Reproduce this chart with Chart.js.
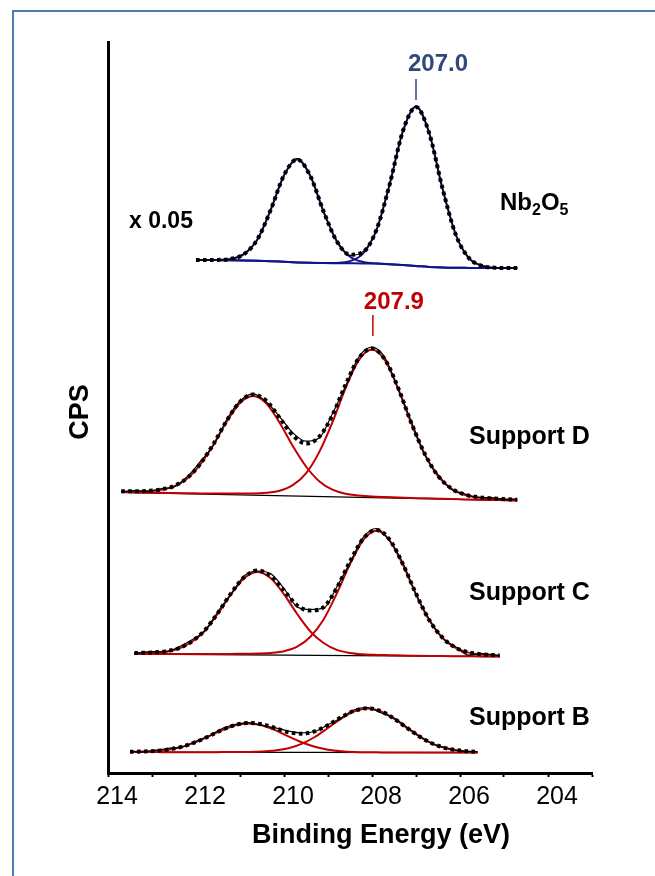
<!DOCTYPE html>
<html>
<head>
<meta charset="utf-8">
<script src="https://cdn.jsdelivr.net/npm/chart.js@4.4.1/dist/chart.umd.min.js"></script>
<style>
html,body{margin:0;padding:0;background:#fff;}
#wrap{position:relative;width:655px;height:876px;overflow:hidden;background:#fff;}
#frame{position:absolute;left:12px;top:10px;width:700px;height:900px;border-left:2px solid #4f7db3;border-top:2px solid #4f7db3;}
canvas{position:absolute;left:0;top:0;}
</style>
</head>
<body>
<div id="wrap"><div id="frame"></div><canvas id="c" width="655" height="876"></canvas></div>
<script>
// ---- x axis ticks ----
const tickValues = [214, 213, 212, 211, 210, 209, 208, 207, 206, 205, 204, 203];
const tickLabels = ['214', '', '212', '', '210', '', '208', '', '206', '', '204', ''];

// ---- Nb2O5 (x 0.05) ----
const nbE     = [212.0, 211.8, 211.5, 211.2, 210.9, 210.6, 210.3, 210.0, 209.7, 209.4, 209.1, 208.8, 208.5, 208.2, 207.9, 207.6, 207.3, 207.0, 206.7, 206.4, 206.1, 205.8, 205.5, 205.2, 204.9, 204.7];
const nbBg    = [513.0, 513.0, 512.9, 512.8, 512.6, 512.3, 511.8, 511.2, 510.6, 510.2, 509.9, 509.8, 509.7, 509.6, 509.4, 508.8, 507.9, 507.0, 506.1, 505.5, 505.2, 505.1, 505.0, 505.0, 505.0, 505.0];
const nbComp1 = [513.0, 513.0, 512.9, 512.8, 512.6, 512.3, 511.8, 511.2, 510.6, 510.2, 509.9, 510.1, 511.8, 519.6, 542.9, 588.3, 641.6, 666.0, 639.8, 585.0, 538.7, 515.1, 507.1, 505.3, 505.0, 505.0];
const nbComp2 = [513.0, 513.0, 513.1, 514.2, 519.1, 534.0, 563.3, 597.8, 613.6, 596.8, 561.4, 531.5, 516.2, 511.0, 509.6, 508.8, 507.9, 507.0, 506.1, 505.5, 505.2, 505.1, 505.0, 505.0, 505.0, 505.0];
const nbFit   = [513.0, 513.0, 513.1, 514.2, 519.1, 534.0, 563.3, 597.8, 613.6, 596.8, 561.4, 531.8, 518.3, 521.0, 543.1, 588.3, 641.6, 666.0, 639.8, 585.0, 538.7, 515.1, 507.1, 505.3, 505.0, 505.0];
const nbRaw   = [513.5, 512.6, 513.4, 514.0, 519.8, 533.2, 564.0, 597.0, 614.5, 597.5, 560.8, 532.5, 517.6, 521.6, 542.4, 589.0, 641.0, 667.0, 640.5, 584.3, 539.4, 514.6, 507.6, 504.8, 505.4, 504.9];

// ---- Support D ----
const dE     = [213.7, 213.4, 213.1, 212.8, 212.5, 212.2, 211.9, 211.6, 211.3, 211.0, 210.7, 210.4, 210.1, 209.8, 209.5, 209.2, 208.9, 208.6, 208.3, 208.0, 207.7, 207.4, 207.1, 206.8, 206.5, 206.2, 205.9, 205.6, 205.3, 205.0, 204.7];
const dComp1 = [280.9, 280.6, 280.3, 280.2, 279.9, 279.7, 279.6, 279.4, 279.4, 279.4, 279.5, 280.3, 282.2, 287.8, 299.7, 320.9, 350.6, 385.0, 412.9, 423.4, 412.3, 383.9, 348.9, 318.7, 296.9, 284.4, 278.3, 275.8, 274.5, 273.8, 273.2];
const dComp2 = [281.5, 281.5, 281.9, 283.2, 286.7, 294.6, 308.7, 328.5, 351.5, 370.0, 376.9, 369.4, 350.3, 326.9, 306.5, 291.8, 283.3, 279.2, 277.5, 276.5, 275.9, 275.4, 275.0, 274.7, 274.3, 273.9, 273.6, 273.3, 273.1, 272.7, 272.4];
const dFit   = [281.7, 281.7, 282.1, 283.5, 287.0, 295.0, 309.3, 329.2, 352.4, 371.2, 378.5, 372.1, 355.2, 337.6, 329.4, 336.2, 357.7, 388.3, 414.7, 424.5, 413.1, 384.5, 349.4, 319.1, 297.2, 284.6, 278.5, 276.0, 274.7, 273.9, 273.3];
const dRaw   = [281.0, 282.3, 281.4, 284.2, 286.1, 296.2, 311.5, 328.0, 353.5, 372.0, 379.2, 371.0, 356.4, 340.2, 331.8, 335.0, 359.2, 387.0, 416.0, 425.8, 414.8, 383.2, 350.8, 318.0, 298.4, 283.8, 279.2, 275.4, 275.3, 273.4, 273.8];
const dBgE   = [213.7, 204.7];
const dBg    = [280.7, 272.3];

// ---- Support C ----
const cE     = [213.4, 213.0, 212.7, 212.4, 212.1, 211.8, 211.5, 211.2, 210.9, 210.6, 210.3, 210.0, 209.7, 209.4, 209.1, 208.8, 208.5, 208.2, 207.9, 207.6, 207.3, 207.0, 206.7, 206.4, 206.1, 205.8, 205.5, 205.1];
const cComp1 = [119.2, 119.1, 119.0, 119.0, 119.0, 119.0, 119.0, 119.1, 119.2, 119.5, 120.1, 121.8, 126.3, 136.3, 153.5, 179.5, 208.9, 232.9, 242.2, 232.7, 208.5, 178.9, 152.7, 135.3, 125.1, 120.4, 118.5, 117.5];
const cComp2 = [119.8, 120.3, 121.4, 124.3, 131.0, 142.3, 159.6, 179.1, 195.0, 201.1, 194.8, 178.7, 159.0, 141.5, 130.0, 123.1, 120.0, 118.7, 118.1, 117.8, 117.5, 117.3, 117.1, 116.9, 116.8, 116.7, 116.6, 116.4];
const cFit   = [120.0, 120.5, 121.6, 124.6, 131.4, 142.8, 160.2, 179.9, 196.0, 202.5, 196.9, 182.6, 167.5, 162.5, 165.9, 185.1, 211.5, 234.3, 243.1, 233.4, 209.0, 179.3, 153.0, 135.5, 125.3, 120.6, 118.7, 117.6];
const cRaw   = [119.6, 121.4, 121.0, 125.8, 133.0, 142.0, 161.4, 179.0, 197.3, 202.0, 199.2, 184.5, 166.0, 163.5, 164.8, 186.0, 210.4, 235.6, 244.5, 232.0, 210.2, 178.5, 154.0, 134.8, 126.2, 117.8, 119.4, 117.2];
const cBgE   = [213.4, 205.1];
const cBg    = [119.0, 116.3];

// ---- Support B ----
const bE     = [213.5, 213.2, 212.9, 212.6, 212.3, 212.0, 211.7, 211.4, 211.1, 210.8, 210.5, 210.2, 209.9, 209.6, 209.3, 209.0, 208.7, 208.4, 208.1, 207.8, 207.5, 207.2, 206.9, 206.6, 206.3, 206.0, 205.6];
const bComp1 = [20.9, 20.9, 20.9, 20.8, 20.8, 20.8, 20.8, 20.9, 20.9, 21.0, 21.5, 22.6, 24.7, 29.1, 36.0, 45.0, 54.4, 61.6, 64.4, 61.6, 54.3, 44.9, 35.9, 28.9, 24.5, 22.3, 21.0];
const bComp2 = [21.1, 21.4, 22.1, 23.5, 26.4, 30.9, 36.8, 43.0, 47.8, 49.6, 47.8, 42.9, 36.6, 30.7, 26.2, 23.3, 21.8, 21.0, 20.7, 20.6, 20.5, 20.5, 20.5, 20.4, 20.4, 20.4, 20.4];
const bFit   = [21.2, 21.5, 22.2, 23.6, 26.5, 31.0, 36.9, 43.2, 48.1, 50.0, 48.7, 44.9, 40.8, 39.3, 41.7, 47.8, 55.7, 62.2, 64.7, 61.8, 54.4, 45.0, 36.0, 29.0, 24.6, 22.4, 21.1];
const bRaw   = [21.5, 21.2, 22.8, 24.8, 26.2, 32.0, 37.2, 44.5, 48.6, 50.4, 47.5, 45.2, 42.0, 40.2, 41.5, 48.4, 55.2, 63.3, 65.5, 60.2, 54.9, 45.6, 36.4, 28.6, 25.0, 22.1, 21.2];
const bBgE   = [213.5, 205.6];
const bBg    = [20.8, 20.3];

// ---- peak position labels ----
const peakMarks = [207.0, 207.98];
const peakTexts = ['207.0', '207.9'];

// ================= build =================
const FONT = '"Liberation Sans", Arial, sans-serif';
const RED = '#c00000';
const NAVY = '#14148a';
const toXY = (xs, ys) => xs.map((x, i) => ({x: x, y: ys[i]}));

const spectra = [
  {E: nbE, bgE: nbE, bg: nbBg, c1: nbComp1, c2: nbComp2, fit: nbFit, raw: nbRaw, comp: NAVY, bgCol: NAVY, bgW: 2},
  {E: dE, bgE: dBgE, bg: dBg, c1: dComp1, c2: dComp2, fit: dFit, raw: dRaw, comp: RED, bgCol: '#000', bgW: 1.3},
  {E: cE, bgE: cBgE, bg: cBg, c1: cComp1, c2: cComp2, fit: cFit, raw: cRaw, comp: RED, bgCol: '#000', bgW: 1.3},
  {E: bE, bgE: bBgE, bg: bBg, c1: bComp1, c2: bComp2, fit: bFit, raw: bRaw, comp: RED, bgCol: '#000', bgW: 1.3}
];

const datasets = [];
spectra.forEach(s => {
  datasets.push({data: toXY(s.bgE, s.bg), borderColor: s.bgCol, borderWidth: s.bgW, order: 4, cubicInterpolationMode: 'monotone'});
  datasets.push({data: toXY(s.E, s.c1), borderColor: s.comp, borderWidth: 2, order: 3, cubicInterpolationMode: 'monotone'});
  datasets.push({data: toXY(s.E, s.c2), borderColor: s.comp, borderWidth: 2, order: 3, cubicInterpolationMode: 'monotone'});
  datasets.push({data: toXY(s.E, s.raw), borderColor: '#000', borderWidth: 1.2, order: 2, cubicInterpolationMode: 'monotone'});
  datasets.push({data: toXY(s.E, s.fit), borderColor: '#000', borderWidth: 4, borderDash: [3.6, 3.4], borderCapStyle: 'butt', order: 1, cubicInterpolationMode: 'monotone'});
});

const textPlugin = {
  id: 'texts',
  afterDraw(chart) {
    const ctx = chart.ctx;
    const xs = chart.scales.x;
    ctx.save();
    // peak markers
    const markCols = ['#2f4a7a', RED];
    const lineY = [[79, 100], [315, 336]];
    const textY = [64.5, 302];
    const dx = [22, 21];
    peakMarks.forEach((e, i) => {
      const px = xs.getPixelForValue(e);
      ctx.strokeStyle = markCols[i];
      ctx.lineWidth = 1.5;
      ctx.beginPath();
      ctx.moveTo(px, lineY[i][0]);
      ctx.lineTo(px, lineY[i][1]);
      ctx.stroke();
      ctx.fillStyle = markCols[i];
      ctx.font = 'bold 24px ' + FONT;
      ctx.textAlign = 'center';
      ctx.textBaseline = 'middle';
      ctx.fillText(peakTexts[i], px + dx[i], textY[i]);
    });
    ctx.fillStyle = '#000';
    ctx.textAlign = 'left';
    ctx.textBaseline = 'alphabetic';
    // x 0.05
    ctx.font = 'bold 23px ' + FONT;
    ctx.fillText('x 0.05', 129, 227.5);
    // Nb2O5 with subscripts
    let x = 500;
    const base = 209.5;
    const parts = [['Nb', false], ['2', true], ['O', false], ['5', true]];
    parts.forEach(p => {
      ctx.font = p[1] ? 'bold 16px ' + FONT : 'bold 24px ' + FONT;
      ctx.fillText(p[0], x, p[1] ? base + 5 : base);
      x += ctx.measureText(p[0]).width;
    });
    // supports
    ctx.font = 'bold 25px ' + FONT;
    ctx.fillText('Support D', 469, 443.5);
    ctx.fillText('Support C', 469, 599.5);
    ctx.fillText('Support B', 469, 725);
    // axis titles
    ctx.font = 'bold 27px ' + FONT;
    ctx.textAlign = 'center';
    ctx.fillText('Binding Energy (eV)', 381, 842.5);
    ctx.save();
    ctx.translate(88, 412);
    ctx.rotate(-Math.PI / 2);
    ctx.textBaseline = 'alphabetic';
    ctx.fillText('CPS', 0, 0);
    ctx.restore();
    ctx.restore();
  }
};

new Chart(document.getElementById('c'), {
  type: 'line',
  data: {datasets: datasets},
  plugins: [textPlugin],
  options: {
    responsive: false,
    animation: false,
    devicePixelRatio: 1,
    layout: {padding: {left: 0, right: 63, top: 42, bottom: 0}},
    plugins: {legend: {display: false}, tooltip: {enabled: false}},
    elements: {point: {radius: 0}, line: {fill: false}},
    scales: {
      x: {
        type: 'linear', reverse: true, min: 203, max: 214,
        afterFit(s) { s.height = 103; },
        afterBuildTicks(s) { s.ticks = tickValues.map(v => ({value: v})); },
        ticks: {
          autoSkip: false, maxRotation: 0, color: '#000', padding: 5, labelOffset: 9,
          font: {family: FONT, size: 25},
          callback: (v) => tickLabels[tickValues.indexOf(v)]
        },
        grid: {display: true, drawOnChartArea: false, drawTicks: true, tickLength: 4, tickColor: '#000', tickWidth: 2},
        border: {display: true, color: '#000', width: 3}
      },
      y: {
        type: 'linear', min: 0, max: 731,
        afterFit(s) { s.width = 108; },
        ticks: {display: false},
        grid: {display: true, drawOnChartArea: false, drawTicks: false},
        border: {display: true, color: '#000', width: 3}
      }
    }
  }
});
</script>
</body>
</html>
